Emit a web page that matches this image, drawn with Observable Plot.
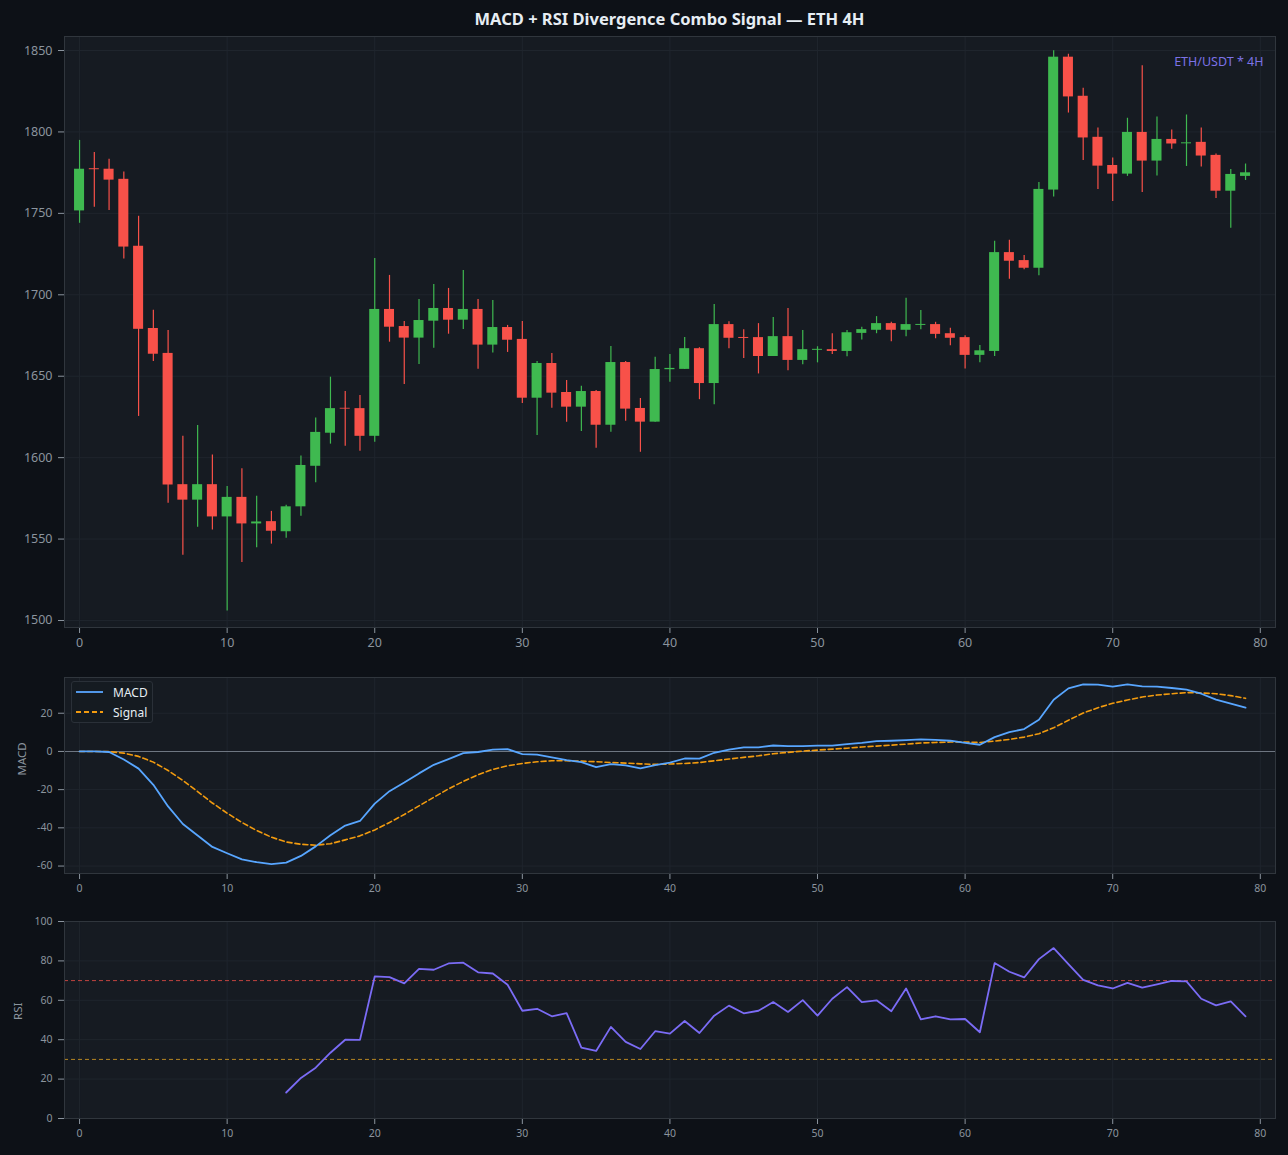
<!DOCTYPE html>
<html>
<head>
<meta charset="utf-8">
<script src="https://cdn.jsdelivr.net/npm/d3@7"></script>
<script src="https://cdn.jsdelivr.net/npm/@observablehq/plot@0.6"></script>
<style>
html, body { margin: 0; padding: 0; background: #0d1117; overflow: hidden; }
#root { position: relative; width: 1288px; height: 1155px; font-family: "Noto Sans", sans-serif; }
.panel { position: absolute; left: 0; }
#title { position: absolute; top: 7px; left: 64px; width: 1211px; text-align: center; color: #e6edf3; font-weight: 700; font-size: 16.5px; }
#legend { position: absolute; left: 71px; top: 681px; width: 80px; height: 40px; background: rgba(22,27,34,0.92); border: 1px solid #2a3038; border-radius: 3px; color: #e6edf3; font-size: 12px; }
#legend .row { position: absolute; left: 4px; height: 16px; display: flex; align-items: center; }
#legend svg { display: block; margin-right: 9px; }
</style>
</head>
<body>
<div id="root">
  <div id="title"></div>
  <div class="panel" id="p1" style="top:30px"></div>
  <div class="panel" id="p2" style="top:667px"></div>
  <div class="panel" id="p3" style="top:911px"></div>
  <div id="legend"></div>
</div>
<script>
// ---------------- data ----------------
const titleText = "MACD + RSI Divergence Combo Signal — ETH 4H";
const pairLabel = "ETH/USDT * 4H";
const seriesNames = ["MACD", "Signal"];

const open  = [1751.5,1777.4,1777.1,1770.9,1729.8,1679.3,1664.0,1583.4,1573.9,1583.4,
               1563.6,1575.6,1559.3,1560.7,1554.5,1569.8,1594.7,1615.0,1630.3,1630.1,
               1613.1,1691.0,1680.5,1673.4,1683.8,1691.6,1684.4,1691.0,1669.1,1679.9,
               1672.6,1636.5,1657.8,1640.0,1631.0,1640.6,1619.9,1658.4,1630.2,1621.8,
               1654.0,1654.2,1666.9,1645.5,1681.7,1673.8,1673.7,1662.1,1674.3,1659.7,
               1665.9,1666.3,1665.2,1676.3,1678.2,1682.3,1678.2,1681.2,1681.7,1676.1,
               1673.7,1662.8,1665.2,1725.9,1721.0,1716.3,1764.3,1845.9,1821.9,1796.7,
               1779.4,1774.1,1799.7,1782.1,1795.4,1792.7,1793.6,1785.6,1763.6,1772.7];
const close = [1777.1,1776.8,1770.4,1729.3,1678.8,1663.5,1583.2,1573.9,1583.4,1563.6,
               1575.6,1559.3,1560.5,1554.8,1569.8,1595.2,1615.5,1630.1,1629.8,1613.1,
               1691.0,1680.1,1673.4,1684.2,1691.6,1684.4,1691.0,1669.1,1679.9,1672.1,
               1636.5,1657.8,1639.6,1631.0,1640.6,1619.9,1658.4,1629.8,1621.8,1654.1,
               1654.8,1666.9,1645.5,1681.7,1673.3,1673.2,1662.1,1674.3,1659.7,1666.3,
               1666.5,1665.2,1676.7,1678.6,1682.3,1678.2,1681.7,1681.8,1675.7,1673.3,
               1662.8,1665.6,1725.9,1720.6,1716.3,1764.7,1845.9,1821.5,1796.3,1779.0,
               1774.1,1799.7,1782.1,1795.4,1792.6,1793.3,1785.2,1763.6,1773.9,1774.9];
const high  = [1794.8,1787.4,1783.3,1775.4,1748.2,1690.5,1678.1,1613.1,1619.8,1601.6,
               1582.3,1593.2,1576.3,1567.0,1570.8,1601.0,1624.3,1649.4,1640.6,1638.2,
               1722.3,1711.9,1683.6,1697.1,1706.3,1703.9,1714.9,1697.1,1696.5,1681.2,
               1683.6,1659.0,1664.0,1647.4,1643.9,1641.2,1668.3,1659.0,1636.3,1661.7,
               1663.3,1673.8,1667.5,1694.0,1683.5,1678.6,1682.3,1686.0,1691.6,1678.0,
               1668.1,1676.1,1678.0,1680.0,1686.6,1683.1,1697.9,1690.3,1683.1,1679.4,
               1674.9,1668.8,1732.9,1733.5,1724.1,1769.0,1849.8,1847.7,1826.8,1802.4,
               1784.0,1808.4,1840.6,1809.2,1801.2,1810.4,1802.4,1786.4,1777.0,1780.3];
const low   = [1743.9,1753.7,1751.7,1722.0,1625.3,1659.0,1572.0,1540.0,1557.2,1555.5,
               1505.8,1535.6,1544.7,1546.9,1550.5,1564.0,1584.6,1608.3,1607.0,1604.0,
               1609.5,1670.9,1644.9,1657.2,1667.2,1675.8,1678.7,1654.3,1664.2,1664.6,
               1633.2,1613.6,1630.4,1621.8,1616.0,1605.8,1615.6,1622.4,1603.3,1621.8,
               1646.3,1654.2,1635.6,1632.5,1666.9,1660.9,1651.4,1662.1,1653.3,1657.0,
               1658.2,1663.4,1661.9,1672.2,1676.1,1671.2,1674.3,1678.6,1673.0,1668.7,
               1654.5,1658.3,1662.1,1709.5,1715.4,1711.7,1760.0,1811.6,1782.5,1764.7,
               1757.3,1772.7,1762.8,1772.9,1789.3,1778.8,1778.4,1759.1,1740.9,1770.2];

const macd   = [0,0,-0.3,-4.2,-9,-17.5,-28.8,-38,-44,-50,
                -53.3,-56.5,-58,-59,-58.2,-54.7,-49.7,-43.9,-38.8,-36.4,
                -27.3,-20.8,-16.3,-11.5,-7,-4,-0.9,-0.3,0.9,1.2,
                -1.4,-1.7,-3.1,-4.5,-5.6,-8.2,-6.6,-7.3,-8.9,-7.2,
                -5.9,-3.7,-3.8,-0.7,1,2.1,2.1,3.1,2.8,2.8,
                3,3,3.8,4.5,5.4,5.6,5.9,6.3,6.1,5.6,
                4.5,3.5,7.5,10.1,11.7,16.6,27.1,33,35.1,35,
                33.9,35.1,34.1,33.9,33.2,32.3,30.2,27.1,25,22.9];
const signal = [0,0,-0.1,-0.9,-2.6,-5.6,-10,-15.2,-21,-27,
                -32.3,-37.2,-41.4,-44.9,-47.4,-48.6,-49.1,-48.3,-46.3,-44.2,
                -41.1,-37.2,-33,-28.5,-24,-19.6,-15.7,-12.2,-9.4,-7.5,
                -6.3,-5.4,-4.9,-4.9,-5.1,-5.4,-5.8,-6.1,-6.5,-6.8,
                -6.6,-6.3,-5.8,-4.9,-4,-3.1,-2.3,-1.2,-0.5,0.2,
                0.7,1.2,1.7,2.3,2.8,3.3,3.8,4.4,4.7,4.9,
                4.9,4.7,5.4,6.3,7.5,9.3,12.4,16.3,20.1,22.9,
                25.2,26.9,28.5,29.5,30.2,30.8,30.6,30.2,29.2,27.8];
const rsi = [null,null,null,null,null,null,null,null,null,null,
             null,null,null,null,13.2,20.6,25.8,33.4,40,39.9,
             72.1,71.8,68.6,76,75.5,78.7,79.1,74.2,73.6,67.9,
             54.7,55.7,51.9,53.5,36,34.3,46.5,38.9,35.3,44.3,
             43.1,49.5,43.4,52.2,57.3,53.4,54.7,59.1,54.1,60.1,
             52.2,60.8,66.7,59.1,60,54.4,66,50.3,51.9,50.3,
             50.5,43.8,78.9,74.5,71.6,80.9,86.5,78.4,70.4,67.6,
             66,68.8,66.4,68.1,69.8,69.6,60.8,57.4,59.5,51.9];

const rsiLevels = [70, 30];
const xTicks = [0,10,20,30,40,50,60,70,80];
const priceTicks = [1500,1550,1600,1650,1700,1750,1800,1850];
const macdTicks = [-60,-40,-20,0,20];
const rsiTicks = [0,20,40,60,80,100];

// ---------------- styling ----------------
const GREEN = "#3fb950", RED = "#f85149";
const PANEL = "#161b22", BORDER = "#30363d", GRID = "#1f252d", TXT = "#8b949e";
const MACD_C = "#58a6ff", SIG_C = "#f29b0f", RSI_C = "#7b6cf6";
const xDomain = [-1.02, 81.03];

const candles = open.map((o, i) => ({i, open: o, close: close[i], high: high[i], low: low[i],
  col: close[i] >= o ? GREEN : RED}));
const macdRows = macd.map((v, i) => ({i, macd: v, signal: signal[i]}));
const rsiRows = rsi.map((v, i) => ({i, rsi: v}));

document.getElementById("title").textContent = titleText;

const baseStyle = (fs) => ({background: "transparent", color: TXT, fontSize: fs, fontFamily: "Noto Sans, sans-serif"});
const fmt = d => String(d);

// ---------------- panel 1: candles ----------------
const p1 = Plot.plot({
  width: 1288, height: 640,
  marginTop: 6, marginBottom: 43, marginLeft: 64, marginRight: 13,
  style: baseStyle("12.5px"),
  color: {type: "identity"},
  x: {domain: xDomain, ticks: xTicks, tickSize: 6, tickPadding: 5, label: null, tickFormat: fmt},
  y: {domain: [1495.7, 1858.6], ticks: priceTicks, tickSize: 6, tickPadding: 6, label: null, tickFormat: fmt},
  marks: [
    Plot.frame({fill: PANEL, stroke: null}),
    Plot.ruleX(xTicks, {stroke: GRID, strokeWidth: 1}),
    Plot.ruleY(priceTicks, {stroke: GRID, strokeWidth: 1}),
    Plot.ruleX(candles, {x: "i", y1: "low", y2: "high", stroke: "col", strokeWidth: 1.2}),
    Plot.rect(candles, {
      x1: d => d.i - 0.34, x2: d => d.i + 0.34,
      y1: d => Math.min(d.open, d.close), y2: d => Math.max(d.open, d.close),
      fill: "col"
    }),
    Plot.text([pairLabel], {frameAnchor: "top-right", dx: -12, dy: 21, fill: "#7c72e6", fontSize: 12.5, textAnchor: "end"}),
    Plot.frame({stroke: BORDER, strokeWidth: 1})
  ]
});
document.getElementById("p1").append(p1);

// ---------------- panel 2: MACD ----------------
const p2 = Plot.plot({
  width: 1288, height: 240,
  marginTop: 10, marginBottom: 34, marginLeft: 64, marginRight: 13,
  style: baseStyle("10.5px"),
  x: {domain: xDomain, ticks: xTicks, tickSize: 6, tickPadding: 5, label: null, tickFormat: fmt},
  y: {domain: [-63.9, 38.7], ticks: macdTicks, tickSize: 6, tickPadding: 6, label: null, tickFormat: fmt},
  marks: [
    Plot.frame({fill: PANEL, stroke: null}),
    Plot.ruleX(xTicks, {stroke: GRID, strokeWidth: 1}),
    Plot.ruleY(macdTicks, {stroke: GRID, strokeWidth: 1}),
    Plot.ruleY([0], {stroke: "#6e7681", strokeWidth: 1.1}),
    Plot.line(macdRows, {x: "i", y: "signal", stroke: SIG_C, strokeWidth: 1.6, strokeDasharray: "5,3"}),
    Plot.line(macdRows, {x: "i", y: "macd", stroke: MACD_C, strokeWidth: 1.8}),
    Plot.text(["MACD"], {frameAnchor: "left", dx: -42, rotate: -90, fill: TXT, fontSize: 11.5}),
    Plot.frame({stroke: BORDER, strokeWidth: 1})
  ]
});
document.getElementById("p2").append(p2);

// ---------------- panel 3: RSI ----------------
const p3 = Plot.plot({
  width: 1288, height: 244,
  marginTop: 10, marginBottom: 37, marginLeft: 64, marginRight: 13,
  style: baseStyle("10.5px"),
  x: {domain: xDomain, ticks: xTicks, tickSize: 6, tickPadding: 5, label: null, tickFormat: fmt},
  y: {domain: [0, 100], ticks: rsiTicks, tickSize: 6, tickPadding: 6, label: null, tickFormat: fmt},
  marks: [
    Plot.frame({fill: PANEL, stroke: null}),
    Plot.ruleX(xTicks, {stroke: GRID, strokeWidth: 1}),
    Plot.ruleY(rsiTicks, {stroke: GRID, strokeWidth: 1}),
    Plot.ruleY([rsiLevels[0]], {stroke: RED, strokeOpacity: 0.75, strokeWidth: 1, strokeDasharray: "4,3"}),
    Plot.ruleY([rsiLevels[1]], {stroke: "#d29922", strokeOpacity: 0.85, strokeWidth: 1, strokeDasharray: "4,3"}),
    Plot.line(rsiRows, {x: "i", y: "rsi", stroke: RSI_C, strokeWidth: 1.8}),
    Plot.text(["RSI"], {frameAnchor: "left", dx: -46, rotate: -90, fill: TXT, fontSize: 11.5}),
    Plot.frame({stroke: BORDER, strokeWidth: 1})
  ]
});
document.getElementById("p3").append(p3);

// ---------------- legend ----------------
const lg = document.getElementById("legend");
const legendStyles = [{c: MACD_C, dash: null}, {c: SIG_C, dash: "5,3"}];
seriesNames.forEach((name, k) => {
  const row = document.createElement("div");
  row.className = "row";
  row.style.top = (2 + k * 20) + "px";
  const s = legendStyles[k];
  row.innerHTML = `<svg width="28" height="10"><line x1="0" y1="5" x2="27" y2="5" stroke="${s.c}" stroke-width="1.8" ${s.dash ? `stroke-dasharray="${s.dash}"` : ""}/></svg><span>${name}</span>`;
  lg.append(row);
});
</script>
</body>
</html>
